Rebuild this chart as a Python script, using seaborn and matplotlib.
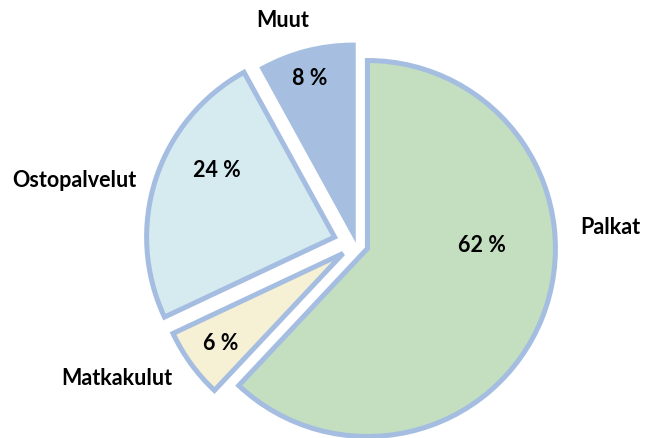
import matplotlib.pyplot as plt
import seaborn as sns

# data
categories = ['Palkat', 'Matkakulut', 'Ostopalvelut', 'Muut']
shares = [62, 6, 24, 8]

# styling / layout
colors = ['#c3dfc0', '#f6f0d4', '#d5ebf0', '#a6bfe0']
edge = '#a4bde1'
explode = [0.065, 0.085, 0.12, 0.06]
name_pos = [(1.35, 0.09), (-1.27, -0.715), (-1.50, 0.34), (-0.39, 1.19)]
pct_pos = [(0.67, -0.01), (-0.72, -0.53), (-0.74, 0.39), (-0.245, 0.88)]

sns.set_theme(style='white')
plt.rcParams['font.family'] = ['Lato', 'DejaVu Sans']

fig = plt.figure(figsize=(6.45, 4.38), dpi=100)
ax = fig.add_axes([0, 0, 1, 1])

wedges, _ = ax.pie(shares, explode=explode, colors=colors, startangle=90,
                   counterclock=False, radius=1.0,
                   wedgeprops=dict(edgecolor=edge, linewidth=3.6))
# last slice has no visible border
wedges[-1].set_edgecolor(colors[-1])

for name, val, (nx, ny), (px, py) in zip(categories, shares, name_pos, pct_pos):
    ax.text(nx, ny, name, ha='center', va='center', fontsize=15.5,
            fontweight='bold', color='black')
    ax.text(px, py, f'{val} %', ha='center', va='center', fontsize=15.5,
            fontweight='bold', color='black')

ax.set_xlim(-1.894, 1.537)
ax.set_ylim(-1.032, 1.298)
ax.set_aspect('auto')
ax.axis('off')

fig.savefig('out.png', dpi=100, facecolor='white')
